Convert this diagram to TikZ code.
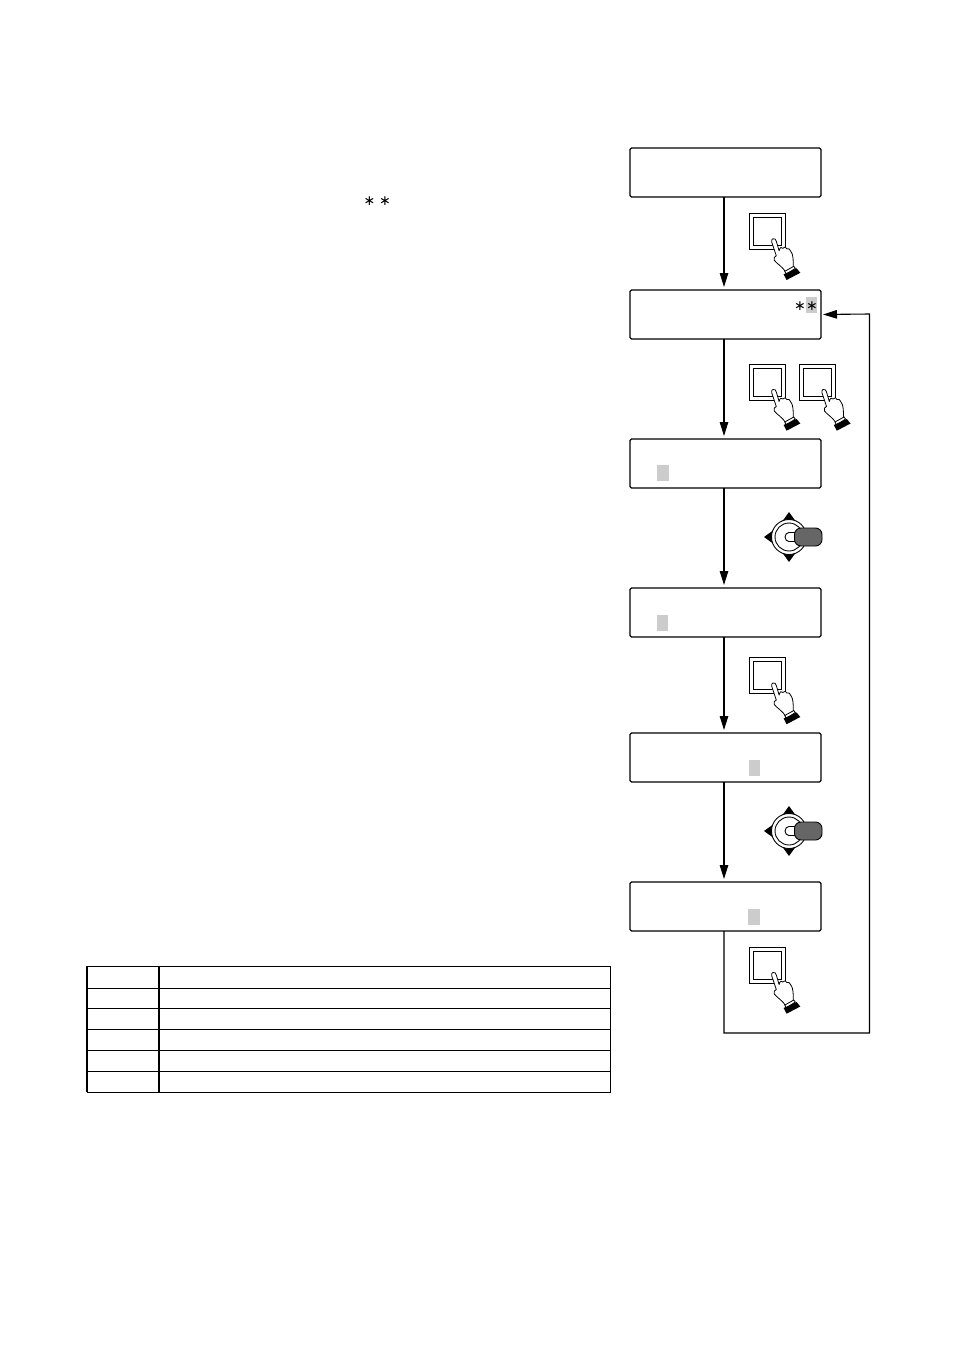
\documentclass[tikz,border=0pt]{standalone}
\usepackage{fontspec}
\newfontfamily\starfont{DejaVu Sans}
\usetikzlibrary{arrows.meta}
\definecolor{hl}{HTML}{CCCCCC}
\definecolor{stick}{HTML}{666666}
\tikzset{
  lcd/.style={draw=black,line width=1.3pt,rounded corners=1.5pt,minimum width=191pt,minimum height=49pt,inner sep=0pt,outer sep=0pt,fill=white},
  flow/.style={line width=1.1pt,-{Triangle[length=14pt,width=8.5pt]},shorten >=3pt},
  cursor/.style={fill=hl,draw=none,minimum width=11.5pt,minimum height=16pt,inner sep=0pt,outer sep=0pt},
  starmark/.style={inner sep=0pt,outer sep=0pt,font=\starfont\fontsize{14pt}{14pt}\selectfont},
  tabline/.style={line width=1pt},
  tabthick/.style={line width=1.8pt},
  pushbtn/.pic={
    \draw[line width=1pt] (0,0) rectangle (36,36);
    \draw[line width=1pt] (4,4) rectangle (32.3,32);
    \draw[line width=.8pt,fill=white,line join=round]
      (23.5,25.5) .. controls (25.5,25) and (26.5,26) .. (27,28)
      -- (29.8,37.5) .. controls (30.5,34) and (32.5,33) .. (33.5,35)
      .. controls (35,33) and (37,33.5) .. (37.5,35.5)
      .. controls (39,34.5) and (41,36) .. (41.5,38)
      .. controls (44,41) and (44,47) .. (44,54)
      -- (36.5,59) .. controls (34,54) and (27,50) .. (25,47)
      .. controls (24,45) and (25,43) .. (27,42.5)
      -- (22.5,29) .. controls (22,27) and (22.5,26) .. (23.5,25.5) -- cycle;
    \draw[line width=.8pt,fill=white] (35.5,58) -- (44.5,53) -- (46,55) -- (37,61) -- cycle;
    \fill[black] (34.3,61) -- (47.3,55) -- (51,59.5) -- (37.3,66.7) -- cycle;
  },
  joystick/.pic={
    \fill (0,-25) -- (6.5,-16) -- (-6.5,-16) -- cycle;
    \fill (0,25) -- (6.5,16) -- (-6.5,16) -- cycle;
    \fill (-25,0) -- (-16,6.5) -- (-16,-6.5) -- cycle;
    \draw[line width=.9pt,fill=white] (0,0) circle (17.5);
    \draw[line width=.9pt] (0,0) circle (14);
    \draw[line width=.9pt,fill=white] (6,-4.5) -- (0,-4.5) arc[start angle=-90,end angle=-270,x radius=4,y radius=4.5] -- (6,4.5);
    \draw[line width=.9pt,fill=stick,rounded corners=6.5pt] (5.5,-9) rectangle (33,9);
  }
}
\begin{document}
\begin{tikzpicture}[x=1pt,y=-1pt]
\useasboundingbox (0,0) rectangle (954,1351);
\fill[white] (0,0) rectangle (954,1351);
% stars in the text column
\node[starmark] (s1) at (369.5,201) {∗};
\node[starmark] (s2) at (385,201) {∗};
% display boxes
\node[lcd] (b1) at (725.5,172.5) {};
\node[lcd] (b2) at (725.5,314.5) {};
\node[lcd] (b3) at (725.5,463.5) {};
\node[lcd] (b4) at (725.5,612.5) {};
\node[lcd] (b5) at (725.5,757.5) {};
\node[lcd] (b6) at (725.5,906.5) {};
% cursors
\node[cursor] (c2) at (811.5,305) {};
\node[cursor] (c3) at (663,473) {};
\node[cursor] (c4) at (662.5,623) {};
\node[cursor] (c5) at (754.5,768) {};
\node[cursor] (c6) at (754,917) {};
\node[starmark] (s3) at (800,306) {∗};
\node[starmark] (s4) at (812,306) {∗};
% connectors
\draw[flow] ([xshift=-1.5pt]b1.south) -- ([xshift=-1.5pt]b2.north);
\draw[flow] ([xshift=-1.5pt]b2.south) -- ([xshift=-1.5pt]b3.north);
\draw[flow] ([xshift=-1.5pt]b3.south) -- ([xshift=-1.5pt]b4.north);
\draw[flow] ([xshift=-1.5pt]b4.south) -- ([xshift=-1.5pt]b5.north);
\draw[flow] ([xshift=-1.5pt]b5.south) -- ([xshift=-1.5pt]b6.north);
\coordinate (ret1) at (724,1033);
\coordinate (ret2) at (869.5,1033);
\coordinate (ret3) at (869.5,314);
\draw[flow,shorten >=2pt] ([xshift=-1.5pt]b6.south) -- (ret1) -- (ret2) -- (ret3) -- (b2.east);
% push buttons
\pic at (749.3,213.3) {pushbtn};
\pic at (749.3,364) {pushbtn};
\pic at (799.5,364) {pushbtn};
\pic at (749.3,657.5) {pushbtn};
\pic at (749.3,947) {pushbtn};
% joysticks
\pic at (789,537) {joystick};
\pic at (789,831) {joystick};
% table
\coordinate (tl) at (87,966);
\coordinate (tr) at (610,966);
\coordinate (bl) at (87,1092);
\coordinate (br) at (610,1092);
\coordinate (mt) at (159,966);
\coordinate (mb) at (159,1092);
\draw[tabline] (tl) -- (tr) -- (br) -- (bl);
\draw[tabthick] (tl) -- (bl);
\draw[tabthick] (mt) -- (mb);
\draw[tabline] (87,988) -- (610,988);
\draw[tabline] (87,1008.5) -- (610,1008.5);
\draw[tabline] (87,1029.5) -- (610,1029.5);
\draw[tabline] (87,1050.5) -- (610,1050.5);
\draw[tabline] (87,1071.5) -- (610,1071.5);
\end{tikzpicture}
\end{document}
